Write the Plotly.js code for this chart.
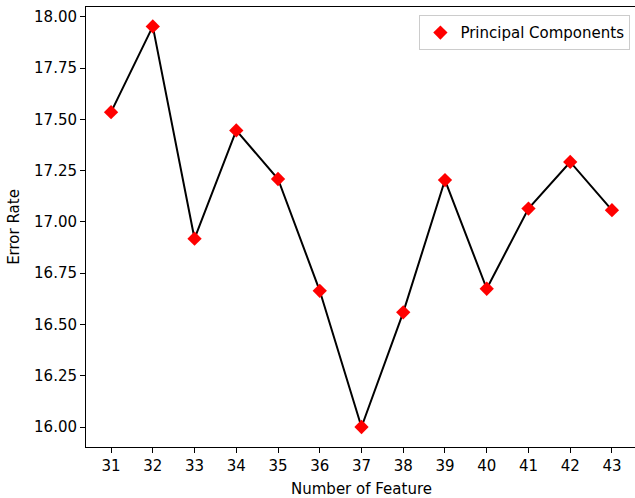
<!DOCTYPE html>
<html>
<head>
<meta charset="utf-8">
<script src="https://cdn.plot.ly/plotly-3.0.1.min.js"></script>
<style>
html, body { margin: 0; padding: 0; width: 635px; height: 498px; overflow: hidden; background: #fff; }
#chart { width: 638px; height: 498px; }
</style>
</head>
<body>
<div id="chart"></div>
<script>
const features = [31, 32, 33, 34, 35, 36, 37, 38, 39, 40, 41, 42, 43];
const errorRate = [17.535, 17.953, 16.918, 17.446, 17.209, 16.664, 16.000, 16.559, 17.204, 16.674, 17.065, 17.292, 17.057];
const yTicks = [16.00, 16.25, 16.50, 16.75, 17.00, 17.25, 17.50, 17.75, 18.00];
const seriesName = "Principal Components";

const font = "DejaVu Sans, sans-serif";
const fs = 15;

const traces = [
  {
    x: features, y: errorRate, type: "scatter", mode: "lines",
    line: {color: "#000000", width: 2}, showlegend: false, hoverinfo: "skip"
  },
  {
    x: features, y: errorRate, type: "scatter", mode: "markers",
    name: seriesName,
    marker: {symbol: "diamond", color: "#ff0000", size: 11, line: {width: 0}}
  }
];

const layout = {
  width: 638, height: 498,
  margin: {l: 86, r: 1, t: 7, b: 51},
  paper_bgcolor: "#ffffff", plot_bgcolor: "#ffffff",
  font: {family: font, size: fs, color: "#000000"},
  showlegend: true,
  legend: {
    x: 0.988, xanchor: "right", y: 0.981, yanchor: "top",
    bgcolor: "rgba(255,255,255,0.8)", bordercolor: "#cccccc", borderwidth: 1,
    font: {family: font, size: fs, color: "#000000"}
  },
  xaxis: {
    range: [30.4, 43.6],
    tickvals: features, ticktext: features.map(String),
    showgrid: false, zeroline: false,
    showline: true, linecolor: "#000000", linewidth: 1, mirror: true,
    ticks: "outside", ticklen: 5, tickwidth: 1, tickcolor: "#000000",
    tickfont: {family: font, size: fs, color: "#000000"},
    title: {text: "Number of Feature", font: {family: font, size: fs, color: "#000000"}, standoff: 10}
  },
  yaxis: {
    range: [15.9025, 18.0475],
    tickvals: yTicks, ticktext: yTicks.map(v => v.toFixed(2)),
    showgrid: false, zeroline: false,
    showline: true, linecolor: "#000000", linewidth: 1, mirror: true,
    ticks: "outside", ticklen: 5, tickwidth: 1, tickcolor: "#000000",
    tickfont: {family: font, size: fs, color: "#000000"},
    title: {text: "Error Rate", font: {family: font, size: fs, color: "#000000"}, standoff: 10}
  }
};

Plotly.newPlot("chart", traces, layout, {displayModeBar: false, staticPlot: true});
</script>
</body>
</html>
